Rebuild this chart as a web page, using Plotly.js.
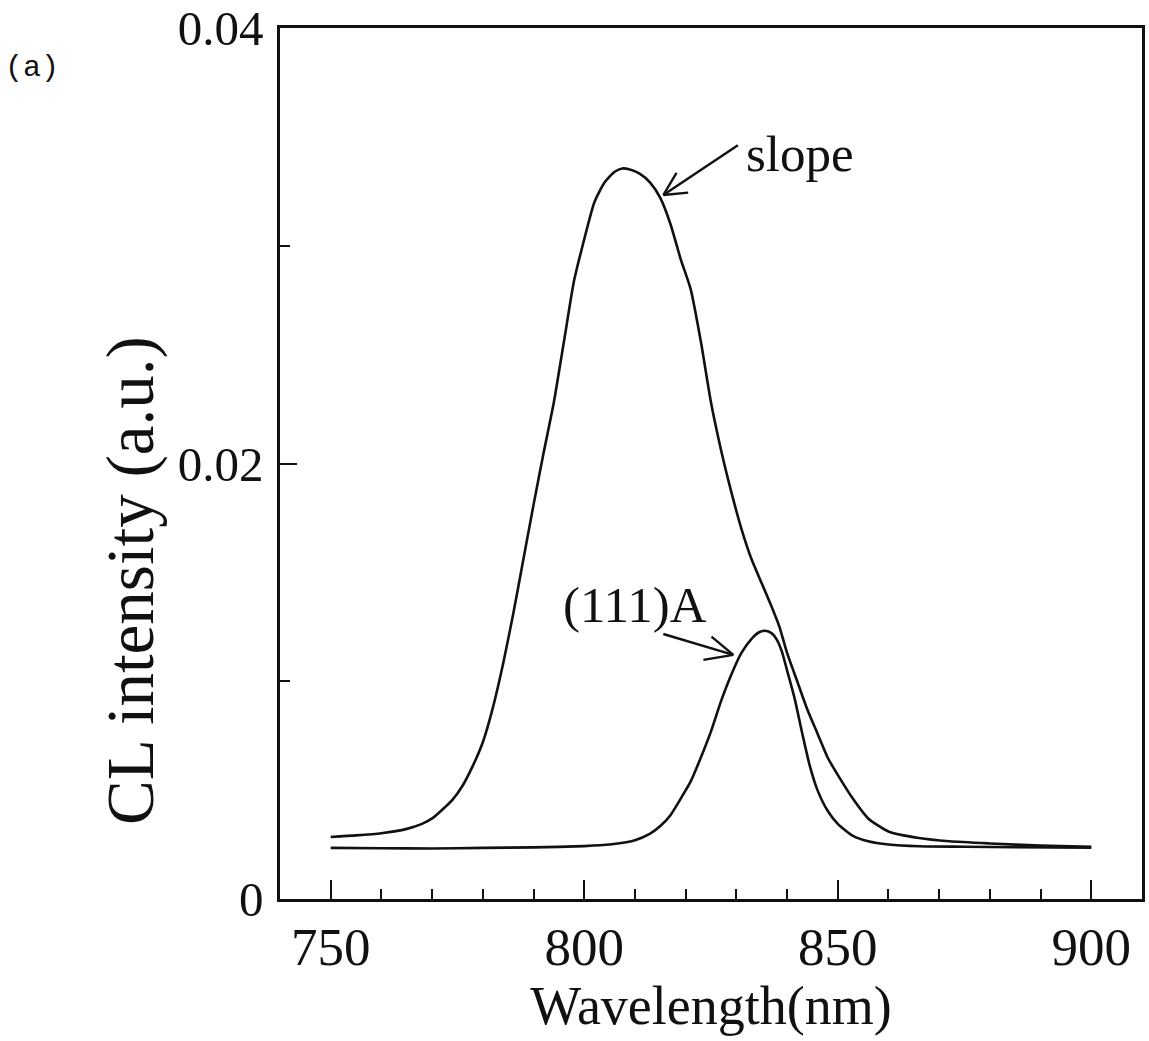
<!DOCTYPE html>
<html>
<head>
<meta charset="utf-8">
<script src="https://cdn.plot.ly/plotly-3.0.1.min.js"></script>
<style>html,body{margin:0;padding:0;background:#fff;}#chart{width:1149px;height:1041px;}</style>
</head>
<body>
<div id="chart"></div>
<script>
// ---- data ----
const wavelengthSlope = [750,755,760,765,768,770,772,774,776,778,780,782,784,786,788,790,792,794,796,798,800,802,804,806,807.5,809,811,813,815,817,819,821,823,825,827,829,831,833,835,837,838.5,840,842,844,846,848,850,853,856,860,866,872,880,890,900];
const intensitySlope  = [0.00285,0.00292,0.00302,0.00322,0.00345,0.0037,0.0041,0.00455,0.0052,0.0061,0.0072,0.0088,0.0108,0.0131,0.0156,0.0181,0.0205,0.0228,0.0256,0.0284,0.0303,0.0320,0.0329,0.0334,0.03355,0.0335,0.0333,0.0329,0.0322,0.0310,0.0294,0.0280,0.0256,0.0228,0.0206,0.0187,0.0170,0.0156,0.0145,0.0134,0.0125,0.0113,0.0100,0.0087,0.0076,0.0065,0.0057,0.0046,0.0037,0.0031,0.0028,0.00265,0.00255,0.00245,0.0024];
const wavelength111A  = [750,760,770,780,790,800,805,810,813,815,817,819,821,823,825,827,829,831,833,834.5,835.7,837,838,839,840,841.5,843,844.5,846,848,850,853,856,860,866,875,885,900];
const intensity111A   = [0.00235,0.00233,0.00232,0.00235,0.00237,0.00243,0.0025,0.0027,0.003,0.00335,0.00385,0.0046,0.0054,0.0065,0.0077,0.0091,0.0103,0.0113,0.01195,0.01225,0.01232,0.0122,0.0119,0.01135,0.0105,0.0092,0.0076,0.0061,0.005,0.00405,0.00345,0.0029,0.00265,0.0025,0.00242,0.0024,0.00238,0.00236];
const xTickVals = [750,800,850,900];
const xTickText = ['750','800','850','900'];
const yTickVals = [0,0.02,0.04];
const yTickText = ['0','0.02','0.04'];
const seriesNames = ['slope','(111)A'];

const serif = "'Liberation Serif','Times New Roman',serif";

const traces = [
  {x: wavelengthSlope, y: intensitySlope, name: seriesNames[0], mode:'lines', line:{color:'#111', width:2.6, shape:'spline', smoothing:0.6}, hoverinfo:'x+y'},
  {x: wavelength111A, y: intensity111A, name: seriesNames[1], mode:'lines', line:{color:'#111', width:2.6, shape:'spline', smoothing:0.6}, hoverinfo:'x+y'}
];

function seg(x0,y0,x1,y1){return {type:'line', xref:'x', yref:'y', x0:x0, y0:y0, x1:x1, y1:y1, line:{color:'#111', width:2.4}};}

const layout = {
  width:1149, height:1041,
  margin:{l:280, r:7, t:28, b:142},
  paper_bgcolor:'#fff', plot_bgcolor:'#fff',
  showlegend:false,
  font:{family:serif, color:'#111'},
  xaxis:{
    range:[740,910], tickvals:xTickVals, ticktext:xTickText,
    ticks:'inside', ticklen:19, tickwidth:2, tickcolor:'#111',
    minor:{dtick:10, tick0:750, ticks:'inside', ticklen:10, tickwidth:2, tickcolor:'#111'},
    showline:true, linewidth:2.6, linecolor:'#111', mirror:true,
    showgrid:false, zeroline:false,
    tickfont:{family:serif, size:53, color:'#111'},
    title:{text:'Wavelength(nm)', font:{family:serif, size:54, color:'#111'}, standoff:6}
  },
  yaxis:{
    range:[0,0.04], tickvals:yTickVals, ticktext:yTickText,
    ticks:'inside', ticklen:17, tickwidth:2, tickcolor:'#111',
    minor:{dtick:0.01, tick0:0, ticks:'inside', ticklen:10, tickwidth:2, tickcolor:'#111'},
    showline:true, linewidth:2.6, linecolor:'#111', mirror:true,
    showgrid:false, zeroline:false,
    tickfont:{family:serif, size:49, color:'#111'},
    ticklabelstandoff:4
  },
  annotations:[
    {text:'CL intensity (a.u.)', xref:'paper', yref:'paper', x:(130-280)/862, y:(899-581)/871, textangle:-90, showarrow:false, xanchor:'center', yanchor:'middle', font:{family:serif, size:67, color:'#111'}},
    {text:'slope', xref:'x', yref:'y', x:842.6, y:0.0342, showarrow:false, xanchor:'center', yanchor:'middle', font:{family:serif, size:51, color:'#111'}},
    {text:'(111)A', xref:'x', yref:'y', x:810.0, y:0.0135, showarrow:false, xanchor:'center', yanchor:'middle', font:{family:serif, size:51, color:'#111'}},
    {text:'(a)', xref:'paper', yref:'paper', x:(32-280)/862, y:(899-68)/871, showarrow:false, xanchor:'center', yanchor:'middle', font:{family:"'Liberation Mono',monospace", size:30, color:'#111'}}
  ],
  shapes:[
    seg(830.3,0.03462,815.6,0.03233), seg(818.2,0.03335,815.6,0.03233), seg(820.5,0.03244,815.6,0.03233),
    seg(815.6,0.01217,829.4,0.01121), seg(825.1,0.01205,829.4,0.01121), seg(823.5,0.01098,829.4,0.01121)
  ]
};

Plotly.newPlot('chart', traces, layout, {staticPlot:true, displayModeBar:false});
</script>
</body>
</html>
